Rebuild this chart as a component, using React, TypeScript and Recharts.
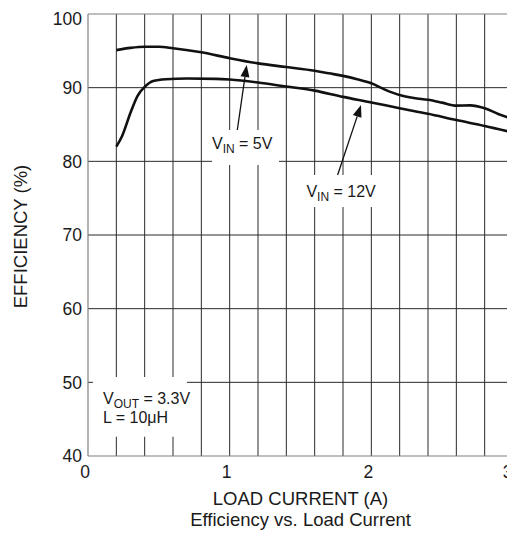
import React from "react";
import { LineChart, Line, XAxis, YAxis, CartesianGrid, ReferenceArea, ReferenceLine } from "recharts";

const current5V = [0.2, 0.3, 0.4, 0.5, 0.6, 0.8, 1.0, 1.2, 1.4, 1.6, 1.7, 1.8, 1.9, 2.0, 2.1, 2.2, 2.3, 2.4, 2.5, 2.6, 2.7, 2.8, 2.9, 2.98];
const eff5V = [95.1, 95.4, 95.55, 95.55, 95.35, 94.8, 94.0, 93.3, 92.8, 92.3, 91.95, 91.6, 91.15, 90.6, 89.7, 89.0, 88.6, 88.35, 87.97, 87.56, 87.6, 87.2, 86.4, 85.85];

const current12V = [0.2, 0.24, 0.3, 0.35, 0.4, 0.46, 0.55, 0.7, 0.9, 1.0, 1.2, 1.4, 1.6, 1.8, 2.0, 2.2, 2.4, 2.6, 2.8, 2.98];
const eff12V = [82.0, 83.4, 86.6, 88.9, 90.1, 90.9, 91.15, 91.25, 91.2, 91.1, 90.7, 90.15, 89.6, 88.75, 88.0, 87.2, 86.45, 85.6, 84.8, 84.0];

const xTicks = [0, 1, 2, 3];
const yTicks = [40, 50, 60, 70, 80, 90, 100];
const xGridValues = [0.2, 0.4, 0.6, 0.8, 1.0, 1.2, 1.4, 1.6, 1.8, 2.0, 2.2, 2.4, 2.6, 2.8];
const yGridValues = [50, 60, 70, 80, 90];

const data5V = current5V.map((x, i) => ({ x, y: eff5V[i] }));
const data12V = current12V.map((x, i) => ({ x, y: eff12V[i] }));

const FONT = "'Liberation Sans', Arial, sans-serif";
const TEXT = "#1a1a1a";

const Arrow = (props: any) => {
  const { x1, y1, x2, y2 } = props;
  const dx = x2 - x1;
  const dy = y2 - y1;
  const len = Math.sqrt(dx * dx + dy * dy) || 1;
  const ux = dx / len;
  const uy = dy / len;
  const hl = 12;
  const hw = 4.5;
  const bx = x2 - ux * hl;
  const by = y2 - uy * hl;
  const pts = `${x2},${y2} ${bx - uy * hw},${by + ux * hw} ${bx + uy * hw},${by - ux * hw}`;
  return (
    <g>
      <line x1={x1} y1={y1} x2={bx} y2={by} stroke="#111" strokeWidth={1.3} />
      <polygon points={pts} fill="#111" />
    </g>
  );
};

const vinLabel = (value: string, dx: number, dy: number) => (props: any) => {
  const vb = props.viewBox || {};
  return (
    <text x={vb.x + dx} y={vb.y + dy} fontFamily={FONT} fontSize={16} fill={TEXT}>
      <tspan>V</tspan>
      <tspan fontSize={12} dy={4}>IN</tspan>
      <tspan dy={-4}>{` = ${value}`}</tspan>
    </text>
  );
};

const voutLabel = (props: any) => {
  const vb = props.viewBox || {};
  return (
    <g>
      <text x={vb.x + 10} y={vb.y + 27.5} fontFamily={FONT} fontSize={16} fill={TEXT}>
        <tspan>V</tspan>
        <tspan fontSize={12} dy={4}>OUT</tspan>
        <tspan dy={-4}>{" = 3.3V"}</tspan>
      </text>
      <text x={vb.x + 10} y={vb.y + 46.5} fontFamily={FONT} fontSize={16} fill={TEXT}>
        L = 10μH
      </text>
    </g>
  );
};

const xTitle = (props: any) => {
  const vb = props.viewBox || {};
  const cx = vb.x + vb.width / 2;
  return (
    <g>
      <text x={cx} y={vb.y + 49} textAnchor="middle" fontFamily={FONT} fontSize={18.5} fill={TEXT}>
        LOAD CURRENT (A)
      </text>
      <text x={cx} y={vb.y + 70} textAnchor="middle" fontFamily={FONT} fontSize={18.5} fill={TEXT}>
        Efficiency vs. Load Current
      </text>
    </g>
  );
};

const yTitle = (props: any) => {
  return (
    <text
      x={19}
      y={228.5}
      transform="rotate(-90, 19, 228.5)"
      textAnchor="middle"
      fontFamily={FONT}
      fontSize={18.5}
      fill={TEXT}
    >
      EFFICIENCY (%)
    </text>
  );
};

export default function App() {
  return (
    <div style={{ width: 507, height: 525, background: "#fff" }}>
      <LineChart width={507} height={525} margin={{ top: 6, right: 2, bottom: 47, left: 0 }}>
        <CartesianGrid
          stroke="#2a2a2a"
          strokeWidth={1}
          horizontalValues={yGridValues}
          verticalValues={xGridValues}
        />
        <XAxis
          type="number"
          dataKey="x"
          domain={[0, 3]}
          ticks={xTicks}
          allowDataOverflow
          height={30}
          tickLine={false}
          tickSize={6}
          tickMargin={4}
          axisLine={{ stroke: "#808080", strokeWidth: 1.2 }}
          tick={{ fontSize: 17.5, fill: TEXT, fontFamily: FONT, dx: -3 }}
          label={xTitle}
        />
        <YAxis
          type="number"
          dataKey="y"
          domain={[40, 100]}
          ticks={yTicks}
          allowDataOverflow
          width={80}
          tickLine={false}
          tickSize={6}
          tickMargin={0}
          axisLine={{ stroke: "#808080", strokeWidth: 1.2 }}
          tick={{ fontSize: 17.5, fill: TEXT, fontFamily: FONT }}
          label={yTitle}
        />
        <ReferenceLine y={100} stroke="#808080" strokeWidth={1.2} />
        <ReferenceLine x={3} stroke="#808080" strokeWidth={1.2} />
        <ReferenceArea x1={0.875} x2={1.348} y1={79.5} y2={84.25} fill="#fff" fillOpacity={1} stroke="none" label={vinLabel("5V", 0, 18.5)} />
        <ReferenceArea x1={1.51} x2={2.047} y1={73.8} y2={78.15} fill="#fff" fillOpacity={1} stroke="none" label={vinLabel("12V", 4.5, 21.7)} />
        <ReferenceArea x1={0.035} x2={0.699} y1={42.6} y2={50.73} fill="#fff" fillOpacity={1} stroke="none" label={voutLabel} />
        <ReferenceLine segment={[{ x: 1.054, y: 84.25 }, { x: 1.12, y: 93.08 }]} shape={Arrow} />
        <ReferenceLine segment={[{ x: 1.762, y: 78.15 }, { x: 1.927, y: 87.65 }]} shape={Arrow} />
        <Line data={data5V} dataKey="y" type="monotone" stroke="#111" strokeWidth={2.6} dot={false} isAnimationActive={false} />
        <Line data={data12V} dataKey="y" type="monotone" stroke="#111" strokeWidth={2.6} dot={false} isAnimationActive={false} />
      </LineChart>
    </div>
  );
}
